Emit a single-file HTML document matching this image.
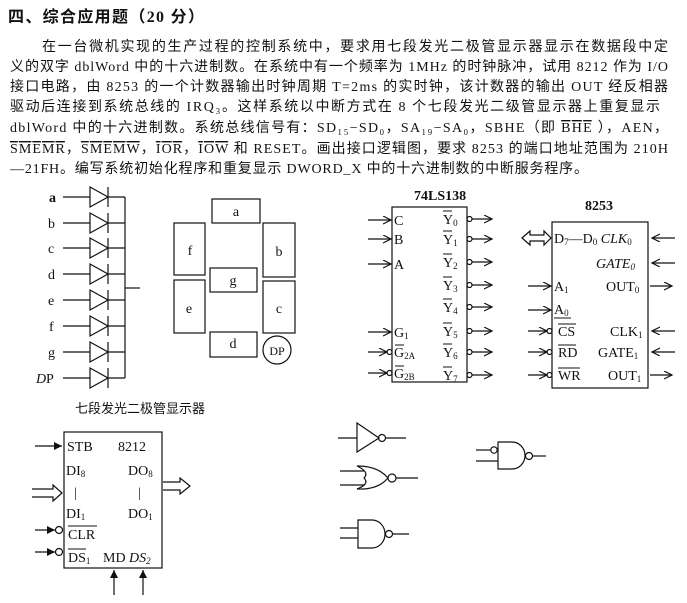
<!DOCTYPE html>
<html><head><meta charset="utf-8"><style>
html,body{margin:0;padding:0;background:#fff}
svg{display:block}
text{font-family:"Liberation Serif","Noto Serif CJK SC",serif;fill:#111}
.cn{font-family:"Liberation Serif","Noto Sans CJK SC",sans-serif}
.ov{text-decoration:overline}
</style></head><body>
<svg width="687" height="603" viewBox="0 0 687 603" xmlns="http://www.w3.org/2000/svg" stroke="#111" stroke-width="1.2" fill="none">
<defs>
<marker id="ah" markerWidth="10" markerHeight="10" refX="8" refY="4" orient="auto" markerUnits="userSpaceOnUse"><path d="M0,0 L8,4 L0,8" fill="none" stroke="#111" stroke-width="1.2"/></marker>
<marker id="af" markerWidth="10" markerHeight="10" refX="8" refY="4" orient="auto" markerUnits="userSpaceOnUse"><path d="M0,0 L8,4 L0,8Z" fill="#111" stroke="none"/></marker>
</defs>
<g stroke="none">
<text class="cn" x="8" y="22" font-size="16" font-weight="bold" textLength="196">四、综合应用题（20 分）</text>
<text class="cn" x="42" y="51" font-size="14" textLength="626">在一台微机实现的生产过程的控制系统中，要求用七段发光二极管显示器显示在数据段中定</text>
<text class="cn" x="10" y="71" font-size="14" textLength="658">义的双字 dblWord 中的十六进制数。在系统中有一个频率为 1MHz 的时钟脉冲，试用 8212 作为 I/O</text>
<text class="cn" x="10" y="91" font-size="14" textLength="658">接口电路，由 8253 的一个计数器输出时钟周期 T=2ms 的实时钟，该计数器的输出 OUT 经反相器</text>
<text class="cn" x="10" y="111" font-size="14" textLength="650">驱动后连接到系统总线的 IRQ₃。这样系统以中断方式在 8 个七段发光二级管显示器上重复显示</text>
<text class="cn" x="10" y="132" font-size="14" textLength="658">dblWord 中的十六进制数。系统总线信号有：SD₁₅−SD₀，SA₁₉−SA₀，SBHE（即 <tspan class="ov">BHE</tspan> ），AEN，</text>
<text class="cn" x="10" y="153" font-size="14" textLength="658"><tspan class="ov">SMEMR</tspan>，<tspan class="ov">SMEMW</tspan>，<tspan class="ov">IOR</tspan>，<tspan class="ov">IOW</tspan> 和 RESET。画出接口逻辑图，要求 8253 的端口地址范围为 210H</text>
<text class="cn" x="10" y="173" font-size="14" textLength="578">—21FH。编写系统初始化程序和重复显示 DWORD_X 中的十六进制数的中断服务程序。</text>
</g>
<!-- diodes -->
<g id="di">
<line x1="63" y1="197" x2="90" y2="197"/><path d="M90,187 L108,197 L90,207Z"/><line x1="108" y1="187" x2="108" y2="207"/><line x1="108" y1="197" x2="125" y2="197"/>
</g>
<use href="#di" y="26"/><use href="#di" y="51"/><use href="#di" y="77"/><use href="#di" y="103"/><use href="#di" y="129"/><use href="#di" y="155"/><use href="#di" y="181"/>
<line x1="125" y1="197" x2="125" y2="378"/><line x1="125" y1="288" x2="140" y2="288"/>
<g stroke="none" font-size="14">
<text x="49" y="202" font-weight="bold">a</text><text x="48" y="228">b</text><text x="48" y="253">c</text><text x="48" y="279">d</text><text x="48" y="305">e</text><text x="49" y="331">f</text><text x="48" y="357">g</text><text x="36" y="383" font-style="italic">D</text><text x="46" y="383">P</text>
</g>
<!-- 7 seg -->
<rect x="212" y="199" width="48" height="24"/><rect x="174" y="223" width="31" height="52"/><rect x="263" y="223" width="32" height="54"/>
<rect x="210" y="268" width="47" height="24"/><rect x="174" y="280" width="31" height="53"/><rect x="263" y="281" width="32" height="52"/>
<rect x="210" y="332" width="47" height="25"/><circle cx="277" cy="350" r="14"/>
<g stroke="none" font-size="14" text-anchor="middle">
<text x="236" y="216">a</text><text x="190" y="255">f</text><text x="279" y="256">b</text><text x="233" y="285">g</text><text x="189" y="313">e</text><text x="279" y="313">c</text><text x="233" y="348">d</text><text x="277" y="355" font-size="12">DP</text>
</g>
<!-- 74LS138 -->
<rect x="392" y="207" width="75" height="175"/>
<g stroke="none" font-size="14">
<text x="414" y="200" font-weight="bold">74LS138</text>
<text x="394" y="225">C</text><text x="394" y="244">B</text><text x="394" y="269">A</text>
<text x="394" y="337">G<tspan font-size="9" dy="2">1</tspan></text>
<text x="394" y="357">G<tspan font-size="9" dy="2">2A</tspan></text>
<text x="394" y="378">G<tspan font-size="9" dy="2">2B</tspan></text>
</g>
<g stroke-width="1"><line x1="395" y1="345" x2="404" y2="345"/><line x1="395" y1="366" x2="404" y2="366"/></g>
<g marker-end="url(#ah)">
<line x1="368" y1="220" x2="391" y2="220"/><line x1="368" y1="239" x2="391" y2="239"/><line x1="368" y1="264" x2="391" y2="264"/><line x1="368" y1="332" x2="391" y2="332"/>
<line x1="368" y1="352" x2="387" y2="352"/><line x1="368" y1="373" x2="387" y2="373"/>
</g>
<circle cx="389.5" cy="352" r="2.5"/><circle cx="389.5" cy="373" r="2.5"/>
<g id="yo"><circle cx="469.5" cy="219" r="2.5"/><line x1="472" y1="219" x2="492" y2="219" marker-end="url(#ah)"/></g>
<use href="#yo" y="20"/><use href="#yo" y="43"/><use href="#yo" y="66"/><use href="#yo" y="88"/><use href="#yo" y="112"/><use href="#yo" y="133"/><use href="#yo" y="156"/>
<g stroke="none" font-size="14">
<text x="443" y="224">Y<tspan font-size="9" dy="2">0</tspan></text><text x="443" y="244">Y<tspan font-size="9" dy="2">1</tspan></text><text x="443" y="267">Y<tspan font-size="9" dy="2">2</tspan></text><text x="443" y="290">Y<tspan font-size="9" dy="2">3</tspan></text>
<text x="443" y="312">Y<tspan font-size="9" dy="2">4</tspan></text><text x="443" y="336">Y<tspan font-size="9" dy="2">5</tspan></text><text x="443" y="357">Y<tspan font-size="9" dy="2">6</tspan></text><text x="443" y="380">Y<tspan font-size="9" dy="2">7</tspan></text>
</g>
<g stroke-width="1"><line x1="443" y1="211" x2="452" y2="211"/><line x1="443" y1="231" x2="452" y2="231"/><line x1="443" y1="254" x2="452" y2="254"/><line x1="443" y1="277" x2="452" y2="277"/><line x1="443" y1="299" x2="452" y2="299"/><line x1="443" y1="323" x2="452" y2="323"/><line x1="443" y1="344" x2="452" y2="344"/><line x1="443" y1="367" x2="452" y2="367"/></g>
<!-- 8253 -->
<rect x="552" y="222" width="96" height="166"/>
<g stroke="none" font-size="14">
<text x="585" y="210" font-weight="bold">8253</text>
<text x="554" y="243">D<tspan font-size="9" dy="2">7</tspan><tspan dy="-2">—D</tspan><tspan font-size="9" dy="2">0</tspan><tspan dy="-2" font-style="italic"> CLK</tspan><tspan font-size="9" dy="2">0</tspan></text>
<text x="596" y="268" font-style="italic">GATE<tspan font-size="9" dy="2">0</tspan></text>
<text x="554" y="291">A<tspan font-size="9" dy="2">1</tspan></text><text x="606" y="291">OUT<tspan font-size="9" dy="2">0</tspan></text>
<text x="554" y="314">A<tspan font-size="9" dy="2">0</tspan></text>
<text x="558" y="336">CS</text><text x="610" y="336">CLK<tspan font-size="9" dy="2">1</tspan></text>
<text x="558" y="357">RD</text><text x="598" y="357">GATE<tspan font-size="9" dy="2">1</tspan></text>
<text x="558" y="380">WR</text><text x="608" y="380">OUT<tspan font-size="9" dy="2">1</tspan></text>
</g>
<g stroke-width="1"><line x1="558" y1="324" x2="576" y2="324"/><line x1="558" y1="345" x2="576" y2="345"/><line x1="558" y1="368" x2="580" y2="368"/><line x1="554" y1="318" x2="571" y2="318"/></g>
<path d="M522,238 L530,231 L530,235 L544,235 L544,231 L551,238 L544,245 L544,241 L530,241 L530,245Z"/>
<g marker-end="url(#ah)">
<line x1="528" y1="286" x2="551" y2="286"/><line x1="528" y1="310" x2="551" y2="310"/>
<line x1="528" y1="331" x2="547" y2="331"/><line x1="528" y1="352" x2="547" y2="352"/><line x1="528" y1="375" x2="547" y2="375"/>
<line x1="675" y1="238" x2="652" y2="238"/><line x1="675" y1="263" x2="652" y2="263"/><line x1="675" y1="331" x2="652" y2="331"/><line x1="675" y1="352" x2="652" y2="352"/>
<line x1="650" y1="286" x2="672" y2="286"/><line x1="650" y1="375" x2="672" y2="375"/>
</g>
<circle cx="549.5" cy="331" r="2.5"/><circle cx="549.5" cy="352" r="2.5"/><circle cx="549.5" cy="375" r="2.5"/>
<!-- 8212 -->
<text class="cn" stroke="none" x="75" y="413" font-size="13">七段发光二极管显示器</text>
<rect x="64" y="432" width="98" height="136"/>
<g stroke="none" font-size="14">
<text x="67" y="451">STB</text><text x="118" y="451">8212</text>
<text x="66" y="475">DI<tspan font-size="9" dy="2">8</tspan></text><text x="128" y="475">DO<tspan font-size="9" dy="2">8</tspan></text>
<text x="74" y="497">|</text><text x="138" y="497">|</text>
<text x="66" y="518">DI<tspan font-size="9" dy="2">1</tspan></text><text x="128" y="518">DO<tspan font-size="9" dy="2">1</tspan></text>
<text x="68" y="539">CLR</text>
<text x="68" y="562">DS<tspan font-size="9" dy="2">1</tspan></text><text x="103" y="562">MD</text><text x="129" y="562" font-style="italic">DS<tspan font-size="9" dy="2">2</tspan></text>
</g>
<g stroke-width="1"><line x1="68" y1="526" x2="97" y2="526"/><line x1="68" y1="549" x2="86" y2="549"/></g>
<g marker-end="url(#af)">
<line x1="35" y1="446" x2="62" y2="446"/><line x1="35" y1="530" x2="55" y2="530"/><line x1="35" y1="552" x2="55" y2="552"/>
<line x1="114" y1="595" x2="114" y2="570"/><line x1="143" y1="595" x2="143" y2="570"/>
</g>
<circle cx="59" cy="530" r="3.5"/><circle cx="59" cy="552" r="3.5"/>
<path d="M32,489 L53,489 L53,485 L62,493 L53,501 L53,497 L32,497"/>
<path d="M163,482 L180,482 L180,478 L190,486 L180,494 L180,490 L163,490"/>
<!-- gates -->
<line x1="338" y1="438" x2="357" y2="438"/><path d="M357,423 L379,438 L357,452Z"/><circle cx="382" cy="438" r="3.5"/><line x1="385.5" y1="438" x2="406" y2="438"/>
<line x1="340" y1="471" x2="364" y2="471"/><line x1="340" y1="485" x2="364" y2="485"/>
<path d="M357,466 Q370,472 364,478 Q370,484 357,489 Q378,490 388,478 Q378,466 357,466Z"/><circle cx="392" cy="478" r="4"/><line x1="396" y1="478" x2="418" y2="478"/>
<line x1="340" y1="528" x2="358" y2="528"/><line x1="340" y1="538" x2="358" y2="538"/>
<path d="M358,520 L372,520 A13,14 0 0 1 372,548 L358,548Z"/><circle cx="389" cy="534" r="3.5"/><line x1="392.5" y1="534" x2="409" y2="534"/>
<line x1="476" y1="450" x2="491" y2="450"/><circle cx="494" cy="450" r="3.2"/><line x1="476" y1="461" x2="498" y2="461"/>
<path d="M498,442 L512,442 A13,13.5 0 0 1 512,469 L498,469Z"/><circle cx="529" cy="456" r="3.5"/><line x1="532.5" y1="456" x2="546" y2="456"/>
</svg>
</body></html>
